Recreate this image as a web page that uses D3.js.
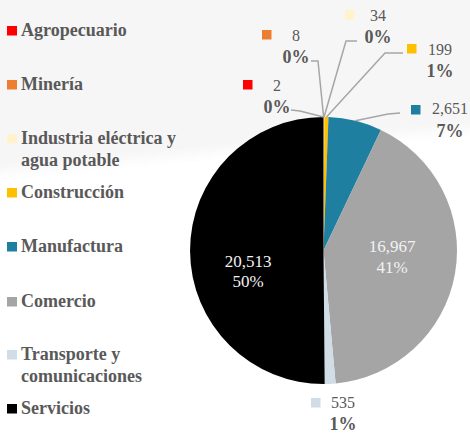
<!DOCTYPE html>
<html><head><meta charset="utf-8">
<script src="https://cdn.jsdelivr.net/npm/d3@7"></script>
</head>
<body style="margin:0">
<svg id="chart" width="470" height="433"></svg>
<script>
// ---- data ----
const categories = ["Agropecuario","Minería","Industria eléctrica y agua potable","Construcción","Manufactura","Comercio","Transporte y comunicaciones","Servicios"];
const legendLines = [["Agropecuario"],["Minería"],["Industria eléctrica y","agua potable"],["Construcción"],["Manufactura"],["Comercio"],["Transporte y","comunicaciones"],["Servicios"]];
const values = [2, 8, 34, 199, 2651, 16967, 535, 20513];
const valueLabels = ["2","8","34","199","2,651","16,967","535","20,513"];
const percentLabels = ["0%","0%","0%","1%","7%","41%","1%","50%"];
const colors = ["#FF0000","#ED7D31","#FFF2CC","#FFC000","#1F7FA0","#A5A5A5","#D0DCE6","#000000"];

// ---- layout ----
const FONT = "'Liberation Serif'";
const cx = 323.5, cy = 250.5, R = 133.5;
const svg = d3.select("#chart");

// background shading (soft diagonal edge via gradient)
const defs = svg.append("defs");
const grad = defs.append("linearGradient").attr("id","bg")
  .attr("gradientUnits","userSpaceOnUse")
  .attr("x1", 235 - 0.093*8).attr("y1", 150 - 8)
  .attr("x2", 235 + 0.093*8).attr("y2", 150 + 8);
grad.append("stop").attr("offset","0%").attr("stop-color","#F6F6F6");
grad.append("stop").attr("offset","100%").attr("stop-color","#FFFFFF");
svg.append("path")
  .attr("d", "M0,0 L470,0 L470,135 L0,179 L0,0 Z")
  .attr("fill", "#F6F6F6");
svg.append("path")
  .attr("d", "M0,163 L470,119 L470,135 L0,179 Z")
  .attr("fill", "url(#bg)");

// pie
const pie = d3.pie().sort(null).value(d => d).startAngle(0).endAngle(2*Math.PI);
const arcs = pie(values);
const arc = d3.arc().innerRadius(0).outerRadius(R);
const g = svg.append("g").attr("transform", `translate(${cx},${cy})`);
g.selectAll("path.slice").data(arcs).enter().append("path")
  .attr("class","slice")
  .attr("d", arc)
  .attr("fill", (d,i) => colors[i]);

// label layout (page coordinates)
const labelLayout = [
  {sq:[243,80], vx:277, vy:91,  py:113, leader:[[291,110],[300,111]]},
  {sq:[262,30], vx:296, vy:41,  py:63,  leader:[[311,61],[318,61]]},
  {sq:[345,10], vx:378, vy:21,  py:43,  leader:[[357,41],[346,41]]},
  {sq:[407,44], vx:440, vy:55,  py:77,  leader:[[403,53],[385,53]]},
  {sq:[411,105],vx:450, vy:114, py:137, leader:[[400,113],[388,114]]},
  {inside:true, vx:392, vy:252, py:273},
  {sq:[311,398],vx:343, vy:408, py:430, leader:null},
  {inside:true, vx:248, vy:267, py:287}
];

const outer = d3.arc().innerRadius(R).outerRadius(R);
arcs.forEach((a,i) => {
  const L = labelLayout[i];
  if (L.leader) {
    const c = outer.centroid(a);
    const pts = L.leader.concat([[cx + c[0], cy + c[1]]]);
    svg.append("path")
      .attr("d", d3.line()(pts))
      .attr("fill","none")
      .attr("stroke","#A6A6A6")
      .attr("stroke-width",1.5);
  }
});

function addText(parent, x, y, str, size, weight, fill, anchor) {
  return parent.append("text").attr("x",x).attr("y",y)
    .attr("text-anchor",anchor).attr("font-family",FONT)
    .attr("font-size",size).attr("font-weight",weight)
    .attr("fill",fill).text(str);
}

arcs.forEach((a,i) => {
  const L = labelLayout[i];
  if (L.inside) {
    addText(svg, L.vx, L.vy, valueLabels[i], "17px", "normal", "#F2F2F2", "middle");
    addText(svg, L.vx, L.py, percentLabels[i], "17px", "normal", "#F2F2F2", "middle");
  } else {
    svg.append("rect").attr("x",L.sq[0]).attr("y",L.sq[1]).attr("width",9.5).attr("height",9.5)
      .attr("fill",colors[i]);
    addText(svg, L.vx, L.vy, valueLabels[i], "16px", "normal", "#595959", "middle");
    addText(svg, L.vx, L.py, percentLabels[i], "18px", "bold", "#595959", "middle");
  }
});

// legend
const legendY = [36, 90, 144, 198, 252, 307, 360, 414];
const legend = svg.append("g");
categories.forEach((c,i) => {
  const by = legendY[i];
  legend.append("rect").attr("x",7).attr("y",by-10).attr("width",10).attr("height",9.5).attr("fill",colors[i]);
  legendLines[i].forEach((ln,j) => {
    addText(legend, 21, by + j*21.5, ln, "18px", "bold", "#595959", "start");
  });
});
</script>
</body></html>
